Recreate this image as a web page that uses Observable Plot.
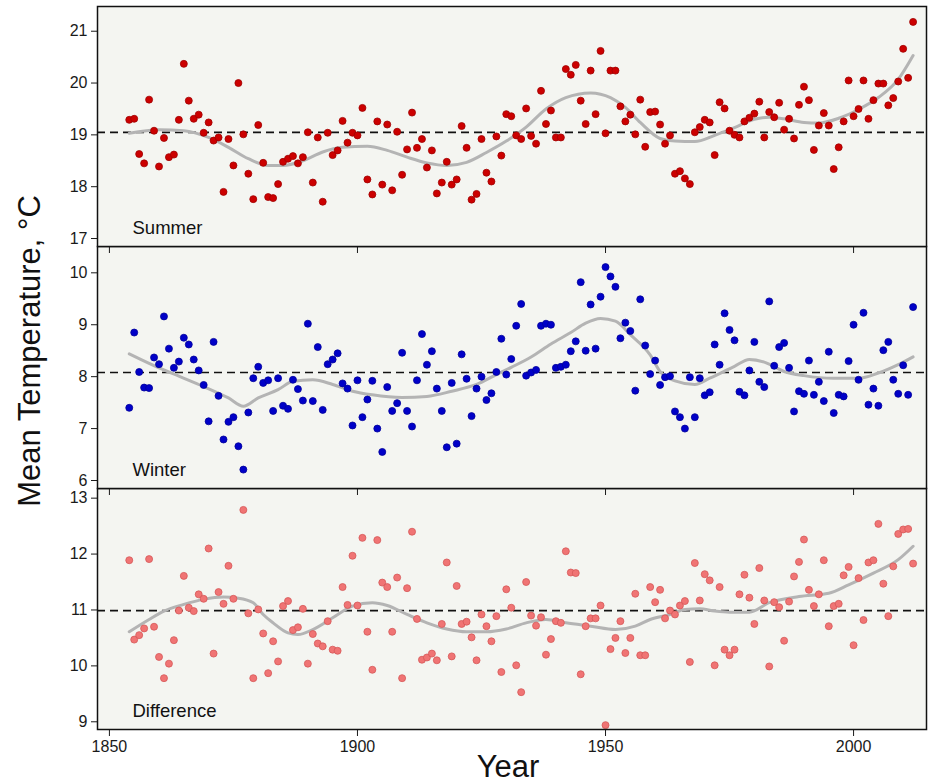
<!DOCTYPE html>
<html><head><meta charset="utf-8">
<script src="https://cdn.jsdelivr.net/npm/d3@7"></script>
<script src="https://cdn.jsdelivr.net/npm/@observablehq/plot@0.6"></script>
<style>
body{margin:0;background:#fff;}
#wrap{position:relative;width:930px;height:784px;overflow:hidden;font-family:"Liberation Sans",Arial,sans-serif;color:#111;}
.panel{position:absolute;left:0;}
.panel svg{overflow:visible;}
#ytitle{position:absolute;left:-220px;top:331px;width:500px;height:40px;line-height:40px;text-align:center;font-size:31px;transform:rotate(-90deg);transform-origin:50% 50%;}
#xtitle{position:absolute;left:408px;top:751px;width:200px;line-height:32px;text-align:center;font-size:31px;}
</style></head><body><div id="wrap"><div id="ytitle">Mean Temperature, °C</div><div id="xtitle">Year</div></div>
<script>
const firstYear = 1854, lastYear = 2012;
const years = d3.range(firstYear, lastYear + 1);
const xTicks = [1850, 1900, 1950, 2000];

const summer = [
  19.29,19.31,18.63,18.45,19.68,19.08,18.39,18.94,18.57,18.62, // 1854-1863
  19.29,20.37,19.66,19.31,19.39,19.04,19.24,18.89,18.95,17.90, // 1864-1873
  18.92,18.41,20.00,19.01,18.25,17.76,19.19,18.46,17.80,17.78, // 1874-1883
  18.05,18.48,18.54,18.59,18.45,18.57,19.05,18.08,18.95,17.71, // 1884-1893
  19.04,18.61,18.70,19.27,18.85,19.04,18.99,19.52,18.14,17.85, // 1894-1903
  19.26,18.04,19.20,17.93,19.06,18.23,18.72,19.43,18.75,18.92, // 1904-1913
  18.37,18.70,17.87,18.08,18.48,18.04,18.14,19.17,18.75,17.75, // 1914-1923
  17.86,18.92,18.27,18.10,18.97,18.60,19.40,19.36,18.99,18.92, // 1924-1933
  19.51,18.98,18.83,19.85,19.21,19.47,18.95,18.95,20.27,20.16, // 1934-1943
  20.35,19.66,19.21,20.24,19.40,20.62,19.03,20.24,20.24,19.55, // 1944-1953
  19.26,19.39,19.01,19.68,18.77,19.44,19.45,19.20,18.83,18.99, // 1954-1963
  18.25,18.30,18.16,18.05,19.05,19.15,19.29,19.24,18.61,19.63, // 1964-1973
  19.51,19.08,19.00,18.95,19.26,19.33,19.41,19.64,18.95,19.44, // 1974-1983
  19.34,19.62,19.10,19.31,18.93,19.58,19.93,19.67,18.71,19.18, // 1984-1993
  19.42,19.18,18.34,18.76,19.26,20.05,19.36,19.50,20.05,19.31, // 1994-2003
  19.67,19.99,19.99,19.57,19.71,20.03,20.66,20.10,21.18        // 2004-2012
];
const winter = [
  7.40,8.85,8.09,7.79,7.78,8.37,8.24,9.16,8.54,8.17,
  8.29,8.75,8.62,8.33,8.12,7.84,7.14,8.67,7.63,6.79,
  7.13,7.22,6.66,6.21,7.31,7.97,8.19,7.88,7.93,7.34,
  7.97,7.44,7.38,7.94,7.76,7.54,9.02,7.53,8.57,7.36,
  8.24,8.33,8.45,7.87,7.77,7.06,7.93,7.22,7.56,7.92,
  7.00,6.55,7.80,7.34,7.49,8.46,7.34,7.04,7.93,8.82,
  8.23,8.49,7.77,7.34,6.64,7.88,6.71,8.43,7.96,7.24,
  7.77,8.00,7.55,7.68,8.09,8.73,8.04,8.34,8.98,9.40,
  8.02,8.08,8.13,8.98,9.02,9.00,8.17,8.19,8.23,8.49,
  8.68,9.82,8.50,9.39,8.54,9.54,10.11,9.93,9.73,8.74,
  9.04,8.88,7.73,9.49,8.60,8.05,8.31,7.84,7.99,8.01,
  7.33,7.22,7.00,7.99,7.22,7.97,7.64,7.70,8.62,8.23,
  9.22,8.90,8.70,7.71,7.64,8.12,8.67,7.90,7.80,9.45,
  8.21,8.57,8.65,8.17,7.33,7.72,7.67,8.31,7.65,7.90,
  7.53,8.48,7.30,7.65,7.62,8.30,9.00,7.94,9.23,7.46,
  7.77,7.44,8.51,8.67,7.94,7.67,8.22,7.65,9.34
];
const difference = [
  11.89,10.47,10.55,10.67,11.91,10.70,10.16,9.78,10.04,10.46,
  10.99,11.61,11.04,10.98,11.28,11.20,12.10,10.22,11.32,11.11,
  11.79,11.20,13.34,12.79,10.94,9.78,11.01,10.58,9.87,10.44,
  10.08,11.07,11.16,10.64,10.69,11.02,10.04,10.57,10.40,10.35,
  10.80,10.29,10.27,11.41,11.09,11.97,11.08,12.29,10.61,9.93,
  12.25,11.49,11.41,10.61,11.58,9.78,11.39,12.40,10.84,10.11,
  10.15,10.22,10.10,10.75,11.85,10.17,11.43,10.75,10.79,10.51,
  10.10,10.92,10.71,10.44,10.89,9.89,11.37,11.04,10.01,9.53,
  11.50,10.90,10.72,10.87,10.20,10.48,10.80,10.77,12.05,11.67,
  11.66,9.85,10.71,10.85,10.85,11.08,8.94,10.30,10.50,10.80,
  10.23,10.50,11.29,10.19,10.19,11.41,11.14,11.36,10.85,10.99,
  10.92,11.08,11.16,10.07,11.84,11.17,11.64,11.53,10.01,11.41,
  10.29,10.19,10.29,11.28,11.63,11.22,10.75,11.75,11.17,9.99,
  11.14,11.05,10.45,11.15,11.60,11.86,12.26,11.36,11.07,11.28,
  11.89,10.71,11.07,11.11,11.62,11.77,10.37,11.57,10.82,11.85,
  11.89,12.54,11.47,10.89,11.78,12.36,12.44,12.45,11.83
];

// smoothed trend lines
const summerSmoothYears = [1854,1860,1865,1870,1874,1878,1882,1885,1889,1893,1897,1902,1906,1910,1914,1918,1922,1926,1930,1934,1938,1942,1947,1951,1954,1957,1961,1964,1968,1972,1976,1980,1983,1986,1990,1993,1997,2001,2005,2009,2012];
const summerSmooth = [19.03,19.10,19.08,18.95,18.76,18.54,18.41,18.41,18.50,18.67,18.76,18.78,18.70,18.57,18.46,18.41,18.47,18.66,18.88,19.15,19.50,19.72,19.81,19.72,19.53,19.24,18.93,18.88,18.87,18.99,19.14,19.30,19.34,19.31,19.24,19.23,19.32,19.49,19.72,20.07,20.53];
const winterSmoothYears = [1854,1860,1864,1869,1874,1877,1880,1884,1887,1891,1895,1899,1903,1909,1914,1919,1924,1928,1931,1935,1939,1943,1946,1949,1952,1955,1959,1961,1964,1968,1971,1976,1979,1982,1986,1990,1996,2001,2005,2009,2012];
const winterSmooth = [8.44,8.17,8.01,7.81,7.59,7.43,7.59,7.75,7.91,7.94,7.85,7.72,7.65,7.60,7.62,7.72,7.85,8.04,8.18,8.38,8.63,8.85,9.03,9.12,9.07,8.81,8.42,8.10,7.92,7.85,7.97,8.20,8.33,8.28,8.10,8.02,7.97,7.97,8.07,8.23,8.38];
const diffSmoothYears = [1854,1858,1861,1865,1869,1873,1876,1879,1881,1883,1886,1888,1891,1895,1899,1903,1906,1910,1914,1918,1922,1926,1930,1934,1938,1942,1947,1952,1956,1959,1963,1966,1969,1972,1975,1979,1983,1989,1995,1999,2004,2009,2012];
const diffSmooth = [10.61,10.83,10.98,11.10,11.19,11.23,11.21,11.13,10.92,10.77,10.59,10.56,10.65,10.86,11.07,11.13,11.08,10.92,10.77,10.66,10.61,10.61,10.66,10.77,10.83,10.77,10.71,10.65,10.71,10.83,10.92,11.01,11.02,10.98,10.96,10.96,11.13,11.24,11.30,11.45,11.66,11.90,12.14];

const summerMean = 19.05, winterMean = 8.08, diffMean = 10.99;
const summerTicks = [17,18,19,20,21], winterTicks = [6,7,8,9,10], diffTicks = [9,10,11,12,13];

const xDomain = [1847.6, 2014.7];
const FONT = '"Liberation Sans", Arial, sans-serif';

function panel(o) {
  const mt = 4, mb = o.last ? 50 : 10;
  const h = o.frameBottom - o.frameTop + mt + mb;
  const pts = years.map((y, i) => ({year: y, value: o.values[i]}));
  const sm = o.smoothX.map((y, i) => ({year: y, value: o.smoothY[i]}));
  const p = Plot.plot({
    width: 930, height: h,
    marginLeft: 97, marginRight: 4, marginTop: mt, marginBottom: mb,
    style: {background: "transparent", overflow: "visible", fontFamily: FONT, fontSize: "16px", color: "#1a1a1a"},
    x: {domain: xDomain},
    y: {domain: o.domain},
    marks: [
      Plot.frame({fill: "#f4f5f1", stroke: "none"}),
      Plot.ruleY([o.mean], {stroke: "#111", strokeWidth: 1.7, strokeDasharray: "8,5"}),
      Plot.line(sm, {x: "year", y: "value", stroke: "#b4b4b4", strokeWidth: 3, curve: "monotone-x"}),
      Plot.dot(pts, {x: "year", y: "value", r: 3.5, fill: o.fill, stroke: o.stroke, strokeWidth: 0.8, clip: true}),
      Plot.text([o.label], {text: d => d, frameAnchor: "bottom-left", dx: 35, dy: -13, textAnchor: "start", lineAnchor: "bottom", fontSize: 18.5, fill: "#111"}),
      Plot.axisY({ticks: o.ticks, tickSize: 6, tickPadding: 4, tickFormat: d => String(d), label: null, fontSize: 16}),
      Plot.axisX({ticks: xTicks, tickSize: 7, tickPadding: 4, tickFormat: o.last ? (d => String(d)) : (() => ""), label: null, fontSize: 16}),
      Plot.frame({stroke: "#111", strokeWidth: 1.5})
    ]
  });
  const div = document.createElement("div");
  div.className = "panel";
  div.style.top = (o.frameTop - mt) + "px";
  div.style.zIndex = o.z;
  div.appendChild(p);
  document.getElementById("wrap").appendChild(div);
}

panel({values: summer, smoothX: summerSmoothYears, smoothY: summerSmooth, mean: summerMean, domain: [16.846, 21.477], ticks: summerTicks,
  fill: "#cc0000", stroke: "#a00000", label: "Summer", frameTop: 6, frameBottom: 246, z: 3});
panel({values: winter, smoothX: winterSmoothYears, smoothY: winterSmooth, mean: winterMean, domain: [5.846, 10.507], ticks: winterTicks,
  fill: "#0000c8", stroke: "#00009a", label: "Winter", frameTop: 246, frameBottom: 488, z: 2});
panel({values: difference, smoothX: diffSmoothYears, smoothY: diffSmooth, mean: diffMean, domain: [8.862, 13.173], ticks: diffTicks,
  fill: "#f07474", stroke: "#d65858", label: "Difference", frameTop: 488, frameBottom: 729, z: 1, last: true});
</script></body></html>
